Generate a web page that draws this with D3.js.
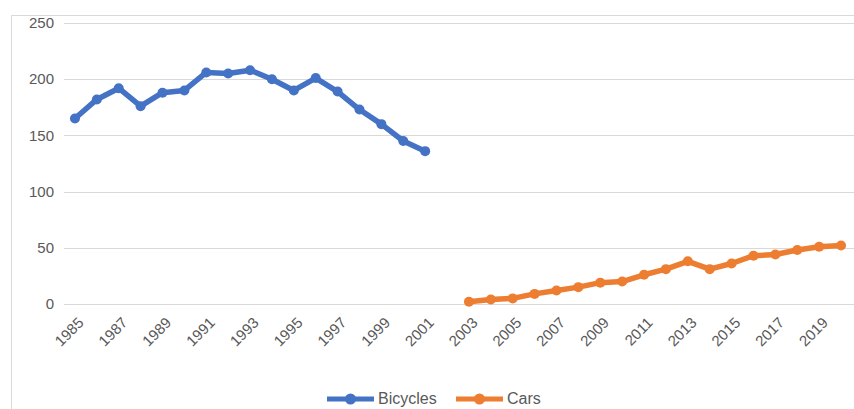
<!DOCTYPE html>
<html>
<head>
<meta charset="utf-8">
<script src="https://cdn.jsdelivr.net/npm/d3@7"></script>
<style>
  body { margin: 0; background: #fff; }
  text { font-family: "Liberation Sans", Arial, sans-serif; fill: #595959; }
</style>
</head>
<body>
<svg id="chart" width="854" height="409"></svg>
<script>
// years 1985..2020
var years = d3.range(1985, 2021).map(String)
var tickYears = d3.range(1985, 2021, 2).map(String)

// bicycles 1985-2001, cars 2003-2020
var bicycleYears = d3.range(1985, 2002).map(String)
var bicycles = [165, 182, 192, 176, 188, 190, 206, 205, 208, 200, 190, 201, 189, 173, 160, 145, 136]

var carYears = d3.range(2003, 2021).map(String)
var cars = [2, 4, 5, 9, 12, 15, 19, 20, 26, 31, 38, 31, 36, 43, 44, 48, 51, 52]

var yTicks = [0, 50, 100, 150, 200, 250]

var series = [
    { name: "Bicycles", color: "#4472c4", values: bicycles.map(function(v, i) { return { x: bicycleYears[i], y: v } }) },
    { name: "Cars", color: "#ed7d31", values: cars.map(function(v, i) { return { x: carYears[i], y: v } }) }
]

var svg = d3.select('#chart')

// outer frame (left and top edges)
svg.append('path')
    .attr('d', 'M11.5,409 V15.5 H854')
    .attr('fill', 'none')
    .attr('stroke', '#d9d9d9')

var x = d3.scaleBand().domain(years).range([64, 852])
var y = d3.scaleLinear().domain([0, 250]).range([304, 23])

function cx(d) { return x(d) + x.bandwidth() / 2 }

// gridlines
svg.selectAll('.grid')
    .data(yTicks)
    .enter()
    .append('line')
    .attr('x1', 64)
    .attr('x2', 854)
    .attr('y1', function(d) { return Math.round(y(d)) + 0.5 })
    .attr('y2', function(d) { return Math.round(y(d)) + 0.5 })
    .attr('stroke', '#d9d9d9')

// y labels
svg.selectAll('.ylab')
    .data(yTicks)
    .enter()
    .append('text')
    .attr('x', 54)
    .attr('y', function(d) { return y(d) })
    .attr('dy', '0.35em')
    .attr('text-anchor', 'end')
    .style('font-size', '15px')
    .text(function(d) { return d })

// x labels
svg.selectAll('.xlab')
    .data(tickYears)
    .enter()
    .append('text')
    .attr('transform', function(d) { return 'translate(' + (cx(d) + 6) + ',320) rotate(-45)' })
    .attr('text-anchor', 'end')
    .attr('dy', '0.35em')
    .style('font-size', '15px')
    .text(function(d) { return d })

var line = d3.line()
    .x(function(d) { return cx(d.x) })
    .y(function(d) { return y(d.y) })

series.forEach(function(s) {
    svg.append('path')
        .datum(s.values)
        .attr('fill', 'none')
        .attr('stroke', s.color)
        .attr('stroke-width', 5.5)
        .attr('stroke-linejoin', 'round')
        .attr('d', line)

    svg.selectAll(null)
        .data(s.values)
        .enter()
        .append('circle')
        .attr('cx', function(d) { return cx(d.x) })
        .attr('cy', function(d) { return y(d.y) })
        .attr('r', 5)
        .attr('fill', s.color)
})

// legend
var legendX = [327, 456]
var legend = svg.selectAll('.legend')
    .data(series)
    .enter()
    .append('g')
    .attr('transform', function(d, i) { return 'translate(' + legendX[i] + ',399)' })

legend.append('line')
    .attr('x1', 0).attr('x2', 47)
    .attr('stroke', function(d) { return d.color })
    .attr('stroke-width', 5)
legend.append('circle')
    .attr('cx', 23.5)
    .attr('r', 5.5)
    .attr('fill', function(d) { return d.color })
legend.append('text')
    .attr('x', 51)
    .attr('dy', '0.32em')
    .style('font-size', '16px')
    .text(function(d) { return d.name })
</script>
</body>
</html>
